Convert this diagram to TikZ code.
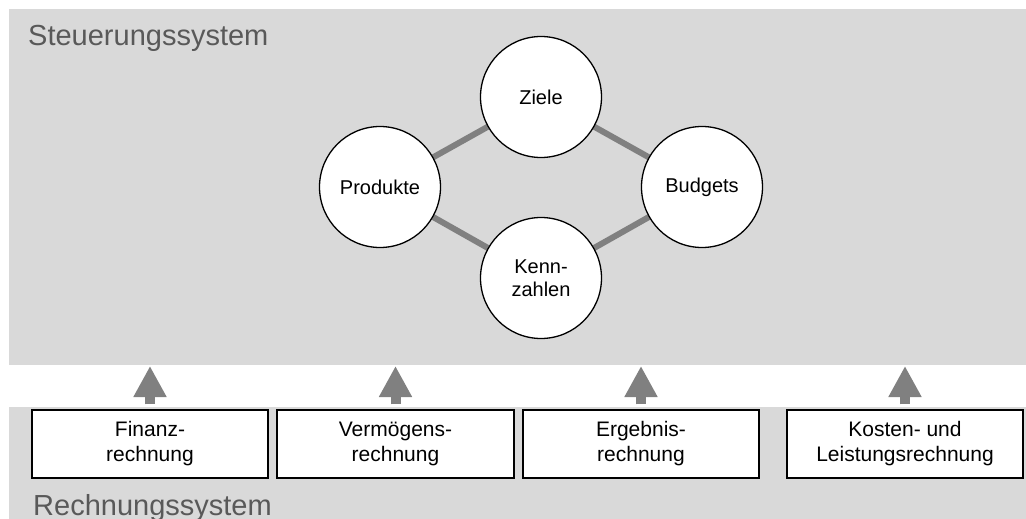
\documentclass[tikz,border=0pt]{standalone}
\usepackage{fontspec}
\setmainfont{Liberation Sans}
\usetikzlibrary{arrows.meta,backgrounds}
\definecolor{bggray}{HTML}{D9D9D9}
\definecolor{linkgray}{HTML}{808080}
\definecolor{titlegray}{HTML}{595959}
\begin{document}
\begin{tikzpicture}[x=1pt,y=-1pt,
  panel/.style={fill=bggray,draw=none,inner sep=0,outer sep=0},
  title/.style={text=titlegray,font=\fontsize{29}{34}\selectfont,inner sep=0,anchor=base west},
  bubble/.style={circle,draw=black,line width=1.3pt,fill=white,minimum size=121pt,inner sep=0,align=center,font=\fontsize{20}{23}\selectfont},
  srcbox/.style={rectangle,draw=black,line width=1.3pt,fill=white,minimum width=236pt,minimum height=68pt,inner sep=0,align=center,font=\fontsize{21}{25}\selectfont},
  link/.style={draw=linkgray,line width=6pt},
  feed/.style={draw=linkgray,line width=10pt,-{Triangle[width=31pt,length=31pt]}}
]
\useasboundingbox (0,0) rectangle (1026,519);
% circles
\node[bubble] (ziele) at (541,97) {Ziele};
\node[bubble] (prod) at (380,187) {Produkte};
\node[bubble] (budg) at (702,187) {Budgets};
\node[bubble] (kenn) at (541,278) {Kenn-\\zahlen};
% boxes
\node[srcbox] (fin) at (150,444) {Finanz-\\rechnung};
\node[srcbox,minimum width=237pt] (verm) at (395.5,444) {Vermögens-\\rechnung};
\node[srcbox] (erg) at (641,444) {Ergebnis-\\rechnung};
\node[srcbox] (kost) at (905,444) {Kosten- und\\Leistungsrechnung};
% titles
\node[title] (tsteu) at (28,46) {Steuerungssystem};
\node[title] (trech) at (33,515) {Rechnungssystem};
\begin{pgfonlayer}{background}
\fill[white] (0,0) rectangle (1026,519);
% panels
\node[panel,minimum width=1017pt,minimum height=356pt] (steu) at (517.5,187) {};
\node[panel,minimum width=1017pt,minimum height=112pt] (rech) at (517.5,463) {};
% connectors between circles
\path[link] (prod.center) -- (ziele.center);
\path[link] (ziele.center) -- (budg.center);
\path[link] (prod.center) -- (kenn.center);
\path[link] (kenn.center) -- (budg.center);
\end{pgfonlayer}
% arrows
\foreach \b in {fin,verm,erg,kost}{
  \draw[feed] ([yshift=5pt]\b.north) -- ([yshift=-1pt]\b.north |- steu.south);
}
\end{tikzpicture}
\end{document}
